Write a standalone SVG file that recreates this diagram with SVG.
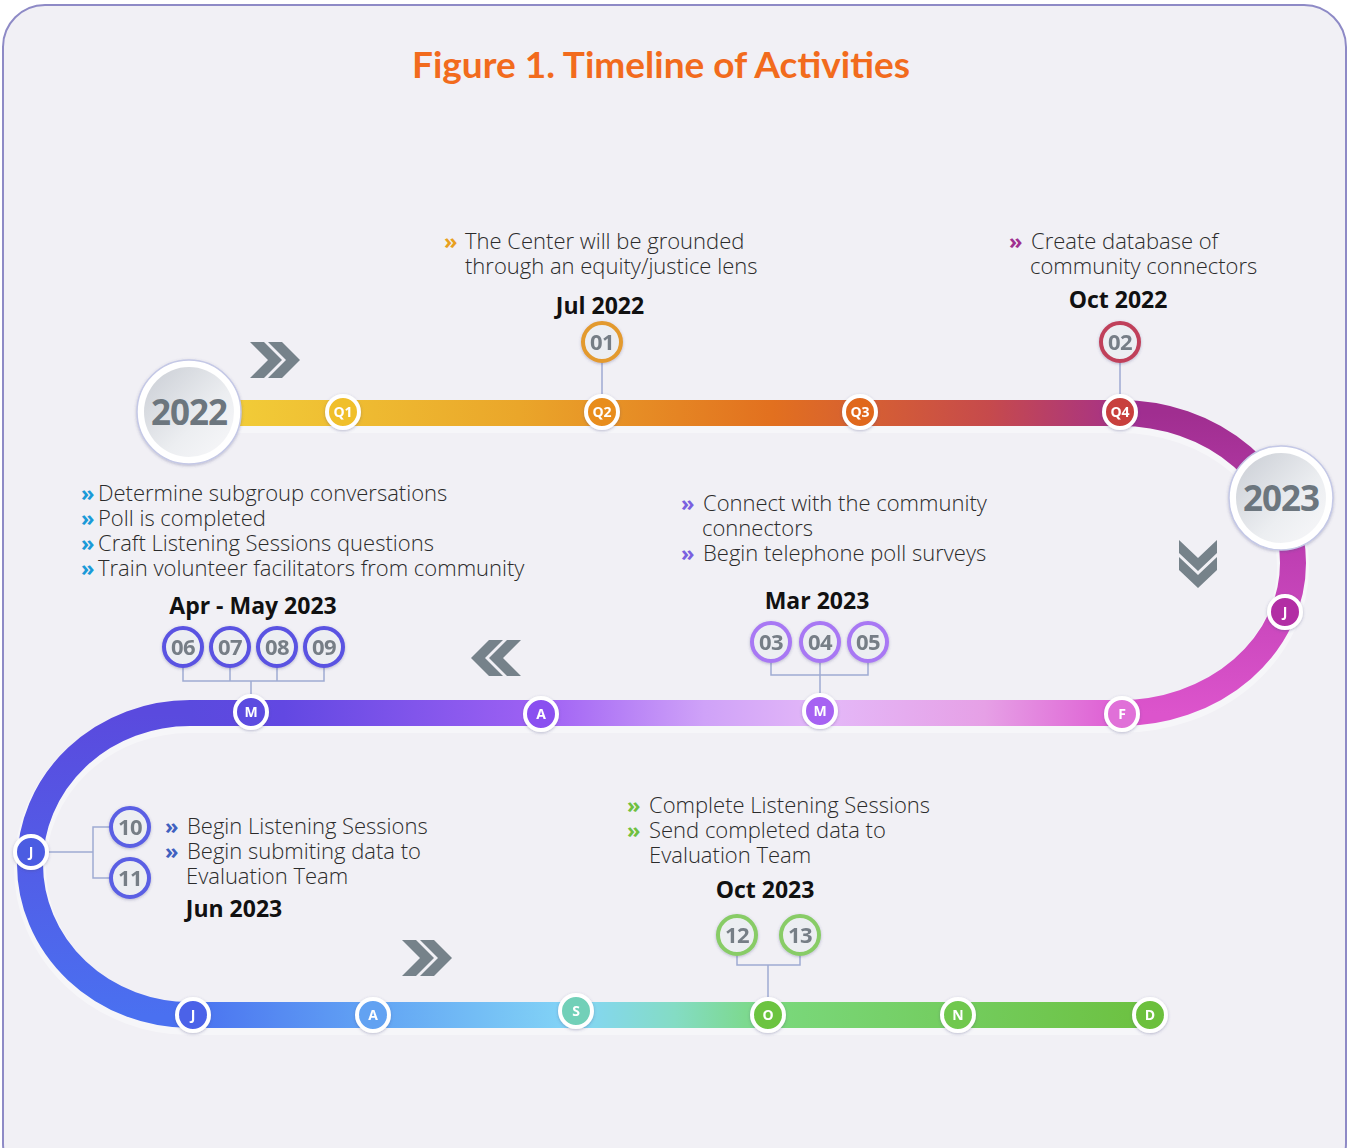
<svg xmlns="http://www.w3.org/2000/svg" width="1351" height="1148" viewBox="0 0 1351 1148">
<style>
.body{font-family:"Open Sans","Noto Sans",sans-serif;font-weight:300;font-size:22px;fill:#2b2b2b}
.bl{font-weight:700}
.lbl{font-family:"Open Sans","Noto Sans",sans-serif;font-weight:700;font-size:23px;fill:#111;text-anchor:middle}
.mk{font-family:"Open Sans","Noto Sans",sans-serif;font-weight:700;font-size:14px;fill:#fff;text-anchor:middle}
.num{font-family:"Open Sans","Noto Sans",sans-serif;font-weight:700;font-size:22px;fill:#767e86;text-anchor:middle;letter-spacing:-0.5px}
.yr{font-family:"Open Sans","Noto Sans",sans-serif;font-weight:700;font-size:35px;fill:#6c767e;text-anchor:middle;letter-spacing:-1px}
.trk{fill:none;stroke-width:26}
.mring{stroke:#fff;stroke-width:4}
.ncirc{fill:#eceef2;stroke-width:4}
.conn{fill:none;stroke:#9eaad2;stroke-width:1.5}
.chev{fill:#76828a}
</style>
<defs>
<linearGradient id="gTop" gradientUnits="userSpaceOnUse" x1="190" y1="0" x2="1130" y2="0">
<stop offset="0" stop-color="#f3d23a"/><stop offset="0.35" stop-color="#eaa62a"/><stop offset="0.62" stop-color="#e2701f"/><stop offset="0.85" stop-color="#c64a4c"/><stop offset="1" stop-color="#a4308c"/>
</linearGradient>
<linearGradient id="gRight" gradientUnits="userSpaceOnUse" x1="0" y1="413" x2="0" y2="713">
<stop offset="0" stop-color="#a02e90"/><stop offset="0.5" stop-color="#c040b4"/><stop offset="1" stop-color="#dc54cc"/>
</linearGradient>
<linearGradient id="gMid" gradientUnits="userSpaceOnUse" x1="190" y1="0" x2="1125" y2="0">
<stop offset="0" stop-color="#5a4ade"/><stop offset="0.1" stop-color="#6248e2"/><stop offset="0.38" stop-color="#a062f4"/><stop offset="0.55" stop-color="#cfa2f8"/><stop offset="0.68" stop-color="#e4b8f8"/><stop offset="0.85" stop-color="#e6a0e6"/><stop offset="1" stop-color="#de5ad2"/>
</linearGradient>
<linearGradient id="gLeft" gradientUnits="userSpaceOnUse" x1="0" y1="713" x2="0" y2="1015">
<stop offset="0" stop-color="#5a4ade"/><stop offset="1" stop-color="#4a70f0"/>
</linearGradient>
<linearGradient id="gBot" gradientUnits="userSpaceOnUse" x1="190" y1="0" x2="1160" y2="0">
<stop offset="0" stop-color="#4a72f0"/><stop offset="0.19" stop-color="#62a4f4"/><stop offset="0.4" stop-color="#84d6f6"/><stop offset="0.5" stop-color="#84dcc4"/><stop offset="0.6" stop-color="#7ad87c"/><stop offset="1" stop-color="#6cc03e"/>
</linearGradient>
<linearGradient id="gYear" x1="0" y1="0" x2="1" y2="1">
<stop offset="0" stop-color="#c9cdd4"/><stop offset="0.6" stop-color="#eceef1"/><stop offset="1" stop-color="#f8f8fa"/>
</linearGradient>
<filter id="sh" x="-50%" y="-50%" width="200%" height="200%">
<feDropShadow dx="0" dy="1" stdDeviation="1.5" flood-color="#4a4a80" flood-opacity="0.35"/>
</filter>
</defs>
<rect x="3" y="5" width="1343" height="1180" rx="42" ry="42" fill="#f1f0f5" stroke="#8e8ac6" stroke-width="2"/>
<text x="661" y="78" text-anchor="middle" font-family="Lato,'Open Sans',sans-serif" font-weight="700" font-size="37" fill="#f26b1d">Figure 1. Timeline of Activities</text>

<g id="track">
<path d="M190 417 H1120 A173 150 0 0 1 1120 717 H190 A160 151 0 0 0 190 1019 H1150" fill="none" stroke="#ffffff" stroke-opacity="0.4" stroke-width="32"/>
<path class="trk" d="M190 413 H1121" stroke="url(#gTop)"/>
<path class="trk" d="M1120 413 A173 150 0 0 1 1120 713" stroke="url(#gRight)"/>
<path class="trk" d="M1121 713 H189" stroke="url(#gMid)"/>
<path class="trk" d="M190 713 A160 151 0 0 0 190 1015" stroke="url(#gLeft)"/>
<path class="trk" d="M189 1015 H1150" stroke="url(#gBot)" stroke-linecap="round"/>
</g>

<g id="connectors">
<line class="conn" x1="602" y1="363" x2="602" y2="396"/>
<line class="conn" x1="1120" y1="363" x2="1120" y2="396"/>
<path class="conn" d="M771 663 V675 H868 V663 M820 663 V695"/>
<path class="conn" d="M183 668 V681 H324 V668 M230 668 V681 M277 668 V681 M251 681 V695"/>
<path class="conn" d="M48 852 H93 M109 827 H93 V878 H109"/>
<path class="conn" d="M737 956 V965 H800 V956 M768 965 V998"/>
</g>

<g id="chevrons">
<path class="chev" d="M250 342 H264 L282 360 L264 378 H250 L268 360 Z M268 342 H282 L300 360 L282 378 H268 L286 360 Z"/>
<path class="chev" d="M1179 540 L1198 558 L1217 540 V553 L1198 571 L1179 553 Z M1179 557 L1198 575 L1217 557 V570 L1198 588 L1179 570 Z"/>
<path class="chev" d="M521 640 H507 L489 658 L507 676 H521 L503 658 Z M503 640 H489 L471 658 L489 676 H503 L485 658 Z"/>
<path class="chev" d="M402 940 H416 L434 958 L416 976 H402 L420 958 Z M420 940 H434 L452 958 L434 976 H420 L438 958 Z"/>
</g>

<g id="year-2022">
<circle cx="189" cy="412" r="52" fill="#ffffff" stroke="#c4c8e6" stroke-width="1.5" filter="url(#sh)"/>
<circle cx="189" cy="412" r="45" fill="url(#gYear)"/>
<text class="yr" x="189" y="425">2022</text>
</g>
<g id="year-2023">
<circle cx="1281" cy="498" r="52" fill="#ffffff" stroke="#c4c8e6" stroke-width="1.5" filter="url(#sh)"/>
<circle cx="1281" cy="498" r="45" fill="url(#gYear)"/>
<text class="yr" x="1281" y="511">2023</text>
</g>

<g id="markers" filter="url(#sh)">
<g id="m-q1"><circle class="mring" cx="343" cy="412" r="16" fill="#f0bf2c"/><text class="mk" x="343" y="417">Q1</text></g>
<g id="m-q2"><circle class="mring" cx="602" cy="412" r="16" fill="#e88d1e"/><text class="mk" x="602" y="417">Q2</text></g>
<g id="m-q3"><circle class="mring" cx="860" cy="412" r="16" fill="#e0681e"/><text class="mk" x="860" y="417">Q3</text></g>
<g id="m-q4"><circle class="mring" cx="1120" cy="412" r="16" fill="#c8403e"/><text class="mk" x="1120" y="417">Q4</text></g>
<g id="m-j1"><circle class="mring" cx="1285" cy="612" r="16" fill="#b22ea4"/><text class="mk" x="1285" y="617">J</text></g>
<g id="m-f"><circle class="mring" cx="1122" cy="714" r="16" fill="#e070d8"/><text class="mk" x="1122" y="719">F</text></g>
<g id="m-m1"><circle class="mring" cx="820" cy="711" r="16" fill="#a662f2"/><text class="mk" x="820" y="716">M</text></g>
<g id="m-a1"><circle class="mring" cx="541" cy="714" r="16" fill="#8a50f0"/><text class="mk" x="541" y="719">A</text></g>
<g id="m-m2"><circle class="mring" cx="251" cy="712" r="16" fill="#5c4ce0"/><text class="mk" x="251" y="717">M</text></g>
<g id="m-j2"><circle class="mring" cx="31" cy="852" r="16" fill="#4c5ce2"/><text class="mk" x="31" y="857">J</text></g>
<g id="m-j3"><circle class="mring" cx="193" cy="1015" r="16" fill="#4c62e8"/><text class="mk" x="193" y="1020">J</text></g>
<g id="m-a2"><circle class="mring" cx="373" cy="1015" r="16" fill="#62a2f2"/><text class="mk" x="373" y="1020">A</text></g>
<g id="m-s"><circle class="mring" cx="576" cy="1011" r="16" fill="#72d0b8"/><text class="mk" x="576" y="1016">S</text></g>
<g id="m-o"><circle class="mring" cx="768" cy="1015" r="16" fill="#6cc440"/><text class="mk" x="768" y="1020">O</text></g>
<g id="m-n"><circle class="mring" cx="958" cy="1015" r="16" fill="#70c84e"/><text class="mk" x="958" y="1020">N</text></g>
<g id="m-d"><circle class="mring" cx="1150" cy="1015" r="16" fill="#6cc03e"/><text class="mk" x="1150" y="1020">D</text></g>
</g>

<g id="numbers" filter="url(#sh)">
<g id="n01"><circle class="ncirc" cx="602" cy="342" r="19" stroke="#e39a2e"/><text class="num" x="602" y="350">01</text></g>
<g id="n02"><circle class="ncirc" cx="1120" cy="342" r="19" stroke="#c0405a"/><text class="num" x="1120" y="350">02</text></g>
<g id="n03"><circle class="ncirc" cx="771" cy="642" r="19" stroke="#a878f4"/><text class="num" x="771" y="650">03</text></g>
<g id="n04"><circle class="ncirc" cx="820" cy="642" r="19" stroke="#a878f4"/><text class="num" x="820" y="650">04</text></g>
<g id="n05"><circle class="ncirc" cx="868" cy="642" r="19" stroke="#a878f4"/><text class="num" x="868" y="650">05</text></g>
<g id="n06"><circle class="ncirc" cx="183" cy="647" r="19" stroke="#5a52e2"/><text class="num" x="183" y="655">06</text></g>
<g id="n07"><circle class="ncirc" cx="230" cy="647" r="19" stroke="#5a52e2"/><text class="num" x="230" y="655">07</text></g>
<g id="n08"><circle class="ncirc" cx="277" cy="647" r="19" stroke="#5a52e2"/><text class="num" x="277" y="655">08</text></g>
<g id="n09"><circle class="ncirc" cx="324" cy="647" r="19" stroke="#5a52e2"/><text class="num" x="324" y="655">09</text></g>
<g id="n10"><circle class="ncirc" cx="130" cy="827" r="19" stroke="#5a5ee4"/><text class="num" x="130" y="835">10</text></g>
<g id="n11"><circle class="ncirc" cx="130" cy="878" r="19" stroke="#5a5ee4"/><text class="num" x="130" y="886">11</text></g>
<g id="n12"><circle class="ncirc" cx="737" cy="935" r="19" stroke="#88cc66"/><text class="num" x="737" y="943">12</text></g>
<g id="n13"><circle class="ncirc" cx="800" cy="935" r="19" stroke="#88cc66"/><text class="num" x="800" y="943">13</text></g>
</g>

<g id="text-jul2022">
<text class="body" x="444" y="249"><tspan class="bl" fill="#e8a020">»</tspan><tspan x="465">The Center will be grounded</tspan></text>
<text class="body" x="465" y="274">through an equity/justice lens</text>
<text class="lbl" x="600" y="314">Jul 2022</text>
</g>
<g id="text-oct2022">
<text class="body" x="1009" y="249"><tspan class="bl" fill="#a03090">»</tspan><tspan x="1031">Create database of</tspan></text>
<text class="body" x="1030" y="274">community connectors</text>
<text class="lbl" x="1118" y="308">Oct 2022</text>
</g>
<g id="text-aprmay2023">
<text class="body" x="81" y="501"><tspan class="bl" fill="#1a9ad8">»</tspan><tspan x="98">Determine subgroup conversations</tspan></text>
<text class="body" x="81" y="526"><tspan class="bl" fill="#1a9ad8">»</tspan><tspan x="98">Poll is completed</tspan></text>
<text class="body" x="81" y="551"><tspan class="bl" fill="#1a9ad8">»</tspan><tspan x="98">Craft Listening Sessions questions</tspan></text>
<text class="body" x="81" y="576"><tspan class="bl" fill="#1a9ad8">»</tspan><tspan x="98">Train volunteer facilitators from community</tspan></text>
<text class="lbl" x="253" y="614">Apr - May 2023</text>
</g>
<g id="text-mar2023">
<text class="body" x="681" y="511"><tspan class="bl" fill="#7a60e0">»</tspan><tspan x="703">Connect with the community</tspan></text>
<text class="body" x="702" y="536">connectors</text>
<text class="body" x="681" y="561"><tspan class="bl" fill="#7a60e0">»</tspan><tspan x="703">Begin telephone poll surveys</tspan></text>
<text class="lbl" x="817" y="609">Mar 2023</text>
</g>
<g id="text-jun2023">
<text class="body" x="165" y="834"><tspan class="bl" fill="#4060c0">»</tspan><tspan x="187">Begin Listening Sessions</tspan></text>
<text class="body" x="165" y="859"><tspan class="bl" fill="#4060c0">»</tspan><tspan x="187">Begin submiting data to</tspan></text>
<text class="body" x="186" y="884">Evaluation Team</text>
<text class="lbl" x="234" y="917">Jun 2023</text>
</g>
<g id="text-oct2023">
<text class="body" x="627" y="813"><tspan class="bl" fill="#70c040">»</tspan><tspan x="649">Complete Listening Sessions</tspan></text>
<text class="body" x="627" y="838"><tspan class="bl" fill="#70c040">»</tspan><tspan x="649">Send completed data to</tspan></text>
<text class="body" x="649" y="863">Evaluation Team</text>
<text class="lbl" x="765" y="898">Oct 2023</text>
</g>
</svg>
